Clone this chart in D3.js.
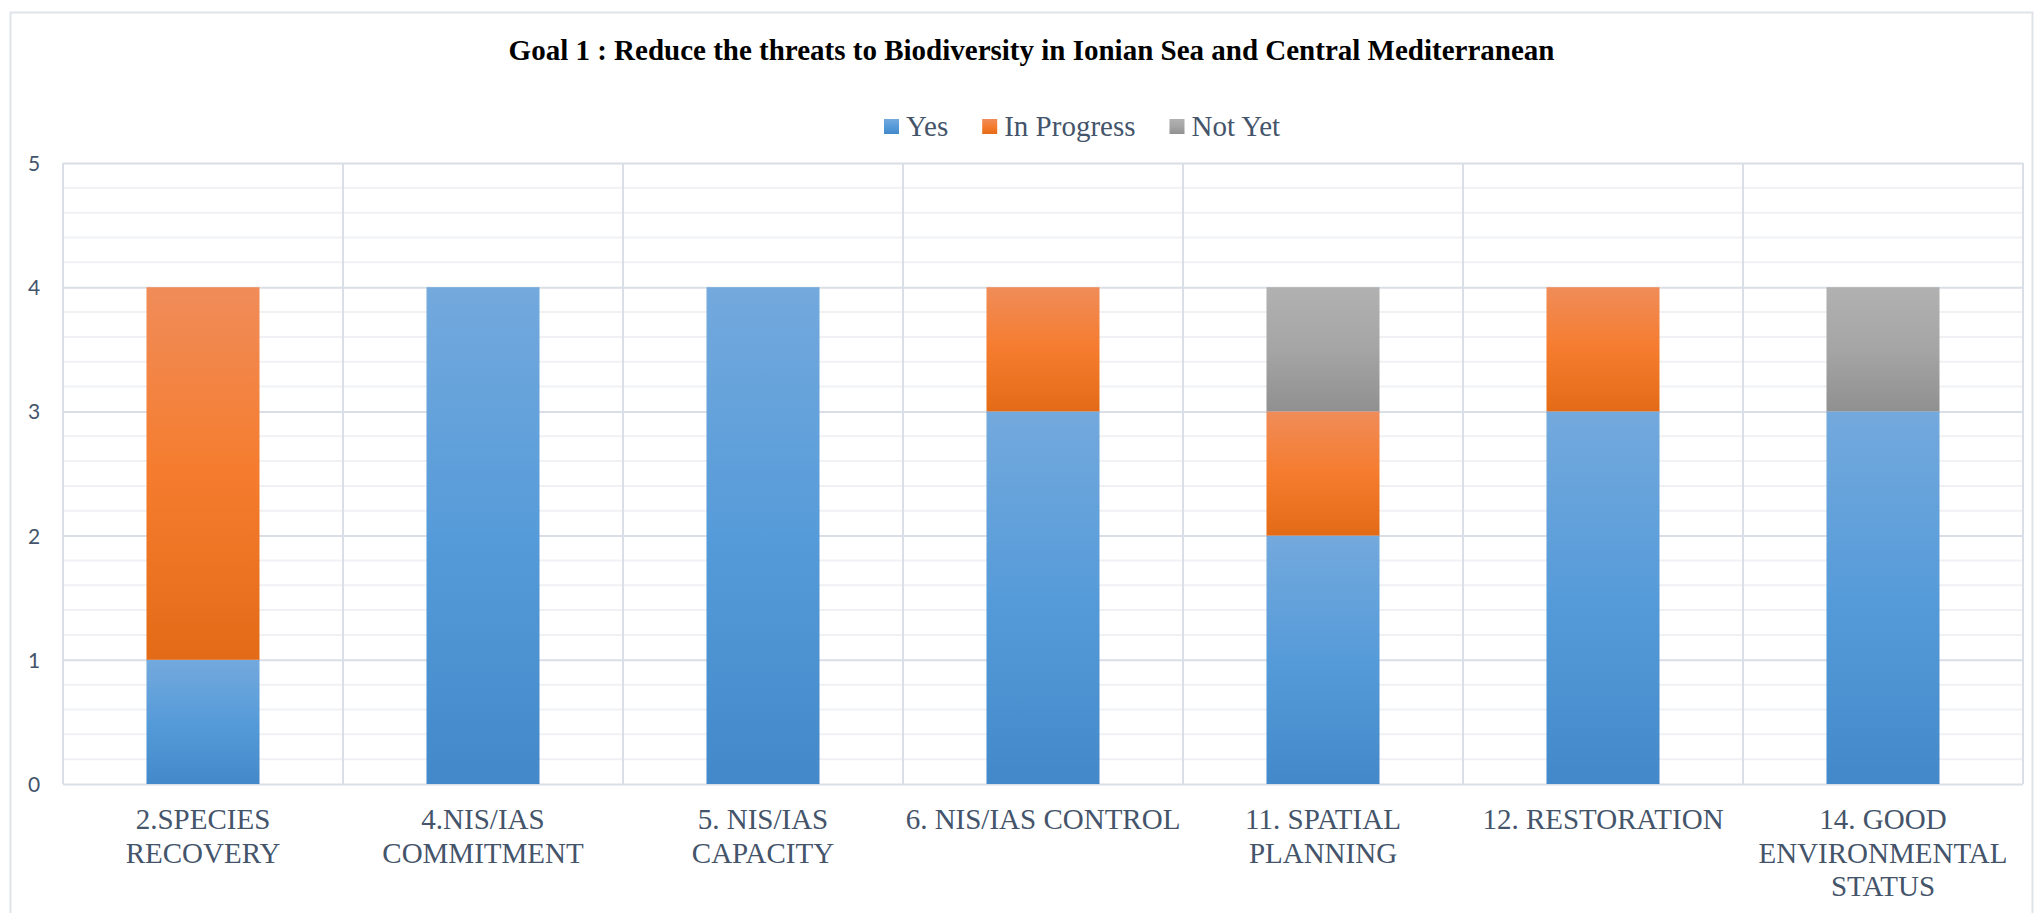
<!DOCTYPE html>
<html>
<head>
<meta charset="utf-8">
<script src="https://cdn.jsdelivr.net/npm/d3@7"></script>
<style>
  html, body { margin: 0; padding: 0; background: #fff; }
  svg { display: block; }
</style>
</head>
<body>
<svg id="chart" width="2035" height="913"></svg>
<script>
// ---- data ----
const title = "Goal 1 : Reduce the threats to Biodiversity in Ionian Sea and Central Mediterranean";
const categoryLines = [
  ["2.SPECIES", "RECOVERY"],
  ["4.NIS/IAS", "COMMITMENT"],
  ["5. NIS/IAS", "CAPACITY"],
  ["6. NIS/IAS CONTROL"],
  ["11. SPATIAL", "PLANNING"],
  ["12. RESTORATION"],
  ["14. GOOD", "ENVIRONMENTAL", "STATUS"]
];
const categories = categoryLines.map(l => l.join(" "));
const seriesNames = ["Yes", "In Progress", "Not Yet"];
const yesValues = [1, 4, 4, 3, 2, 3, 3];
const inProgressValues = [3, 0, 0, 1, 1, 1, 0];
const notYetValues = [0, 0, 0, 0, 1, 0, 1];
const yTicks = [0, 1, 2, 3, 4, 5];
const yMinorStep = 0.2;

// ---- layout ----
const W = 2035, H = 913;
const plot = { left: 63, right: 2023, top: 163, bottom: 784 };
const barWidth = 113;
const textColor = "#44546a";
const majorGrid = "#dadee6";
const minorGrid = "#f0f1f4";

const svg = d3.select("#chart");
const defs = svg.append("defs");

const gradStops = {
  "Yes": ["#73a9dd", "#569bd9", "#4388c8"],
  "In Progress": ["#f08c59", "#f57c2e", "#e36b17"],
  "Not Yet": ["#b1b1b1", "#a5a5a5", "#909090"]
};
const gradId = d => "grad-" + d.replace(/\s+/g, "");
seriesNames.forEach(name => {
  const g = defs.append("linearGradient").attr("id", gradId(name))
    .attr("x1", 0).attr("y1", 0).attr("x2", 0).attr("y2", 1);
  gradStops[name].forEach((c, i) => g.append("stop").attr("offset", (i * 50) + "%").attr("stop-color", c));
});

// outer border
svg.append("rect").attr("x", 10.5).attr("y", 12.5).attr("width", W - 13).attr("height", H + 20)
  .attr("fill", "none").attr("stroke", "#dfe3ea").attr("stroke-width", 2);

// scales
const x = d3.scaleBand().domain(categories).range([plot.left, plot.right]).paddingInner(0).paddingOuter(0);
const y = d3.scaleLinear().domain([0, 5]).range([plot.bottom, plot.top]);

// minor gridlines
const minorTicks = d3.range(0, 5 + 1e-9, yMinorStep).filter(v => Math.abs(v - Math.round(v)) > 1e-6);
svg.append("g").selectAll("line").data(minorTicks).join("line")
  .attr("x1", plot.left).attr("x2", plot.right)
  .attr("y1", d => y(d)).attr("y2", d => y(d))
  .attr("stroke", minorGrid).attr("stroke-width", 2);

// major gridlines via axis
const gridAxis = d3.axisLeft(y).tickValues(yTicks).tickSize(-(plot.right - plot.left)).tickFormat("");
const gg = svg.append("g").attr("transform", `translate(${plot.left},0)`).call(gridAxis);
gg.select(".domain").remove();
gg.selectAll("line").attr("stroke", majorGrid).attr("stroke-width", 2);

// vertical category dividers
const dividers = categories.map(c => x(c)).concat([plot.right]);
svg.append("g").selectAll("line").data(dividers).join("line")
  .attr("x1", d => d).attr("x2", d => d)
  .attr("y1", plot.top).attr("y2", plot.bottom)
  .attr("stroke", majorGrid).attr("stroke-width", 2);

// y tick labels
const yAxis = d3.axisLeft(y).tickValues(yTicks).tickSize(0).tickPadding(0).tickFormat(d3.format("d"));
const ya = svg.append("g").attr("transform", `translate(0,0)`).call(yAxis);
ya.select(".domain").remove();
ya.selectAll("text")
  .attr("x", 34).attr("text-anchor", "middle").attr("dy", "0.36em")
  .attr("font-family", "Lato, 'Open Sans', sans-serif").attr("font-size", 21).attr("fill", textColor);

// stacked bars
const table = categories.map((c, i) => ({
  cat: c, "Yes": yesValues[i], "In Progress": inProgressValues[i], "Not Yet": notYetValues[i]
}));
const stacked = d3.stack().keys(seriesNames)(table);
svg.append("g").selectAll("g").data(stacked).join("g")
  .attr("fill", s => `url(#${gradId(s.key)})`)
  .selectAll("rect").data(s => s.filter(d => d[1] - d[0] > 0)).join("rect")
  .attr("x", d => x(d.data.cat) + x.bandwidth() / 2 - barWidth / 2)
  .attr("width", barWidth)
  .attr("y", d => y(d[1]))
  .attr("height", d => y(d[0]) - y(d[1]));

// x labels
const xl = svg.append("g").selectAll("text").data(categoryLines).join("text")
  .attr("x", (d, i) => x(categories[i]) + x.bandwidth() / 2)
  .attr("y", 829)
  .attr("text-anchor", "middle")
  .attr("font-family", "'Liberation Serif', 'Times New Roman', serif")
  .attr("font-size", 29).attr("fill", textColor);
xl.each(function(lines, i) {
  const t = d3.select(this);
  const cx = x(categories[i]) + x.bandwidth() / 2;
  lines.forEach((ln, j) => t.append("tspan").attr("x", cx).attr("dy", j === 0 ? 0 : 33.5).text(ln));
});

// title
const tt = svg.append("text").attr("x", 1031.5).attr("y", 60).attr("text-anchor", "middle")
  .attr("font-family", "'Liberation Serif', 'Times New Roman', serif")
  .attr("font-weight", "bold").attr("font-size", 29).attr("fill", "#000").text(title);

// legend
const leg = svg.append("g");
let lx = 884;
seriesNames.forEach(name => {
  leg.append("rect").attr("x", lx).attr("y", 119).attr("width", 15).attr("height", 15)
    .attr("fill", `url(#${gradId(name)})`);
  const t = leg.append("text").attr("x", lx + 22).attr("y", 136)
    .attr("font-family", "'Liberation Serif', 'Times New Roman', serif")
    .attr("font-size", 29).attr("fill", textColor).text(name);
  lx += 22 + t.node().getComputedTextLength() + 34;
});
</script>
</body>
</html>
